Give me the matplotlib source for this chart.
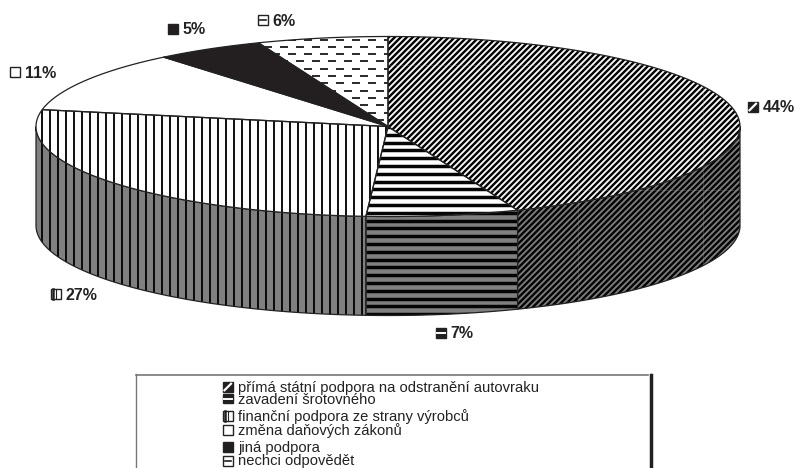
import matplotlib
matplotlib.use("Agg")
import matplotlib.pyplot as plt
import numpy as np
from matplotlib.collections import LineCollection
from matplotlib.patches import Polygon, Rectangle

plt.rcParams['font.family'] = ['Liberation Sans', 'DejaVu Sans']

# data
kategorie = ["přímá státní podpora na odstranění autovraku", "zavadení šrotovného",
             "finanční podpora ze strany výrobců", "změna daňových zákonů",
             "jiná podpora", "nechci odpovědět"]
procenta = [44, 7, 27, 11, 5, 6]
vzory = ["diag", "horiz", "vert", "blank", "solid", "dash"]
popisky = ["44%", "7%", "27%", "11%", "5%", "6%"]

# pozice
CX, CY, A, B, DEPTH = 388, 126.5, 352, 90, 99
label_pos = [(748, 107), (436, 333), (51, 294), (10, 72), (168, 29), (258, 20)]
legend_key_y = [387, 398.5, 416, 430, 447, 461]
legend_base_y = [392, 404, 421, 435, 452, 465]
CERNA = "#231f20"

fig = plt.figure(figsize=(7.95, 4.68), dpi=100)
ax = fig.add_axes([0, 0, 1, 1])
ax.set_xlim(0, 795)
ax.set_ylim(468, 0)
ax.axis("off")


def arc(a0, a1, dy=0):
    t = np.radians(np.linspace(a0, a1, 120))
    return np.column_stack([CX + A * np.cos(t), CY + dy - B * np.sin(t)])


def stripes(poly, vzor, base, z):
    # vyplni polygon vzorem, cary jsou orizle na polygon
    patch = Polygon(poly, closed=True, fc=base, ec="none", zorder=z)
    ax.add_patch(patch)
    x0, y0 = poly.min(axis=0)
    x1, y1 = poly.max(axis=0)
    segs = []
    lw = 1
    if vzor == "vert":
        segs = [[(x, y0), (x, y1)] for x in np.arange(2, 800, 8.0)]
        lw = 1.35
    elif vzor == "horiz":
        segs = [[(x0, y), (x1, y)] for y in np.arange(2.1, 470, 7.8)]
        lw = 2.5
    elif vzor == "diag":
        segs = [[(c, 0), (c - 500, 500)] for c in np.arange(0, 1400, 6.0)]
        lw = 1.75
    elif vzor == "dash":
        for i, y in enumerate(np.arange(3, 120, 7.3)):
            off = 0 if i % 2 == 0 else 8
            segs += [[(x + off, y), (x + off + 8, y)] for x in np.arange(200, 400, 16)]
        lw = 1.2
    if segs:
        lc = LineCollection(segs, colors="#050505", linewidths=lw, zorder=z + 0.1, capstyle="butt")
        ax.add_collection(lc)
        lc.set_clip_path(patch)
    if vzor == "diag":
        # svetle svy mezi dlazdicemi vzoru
        svy = [[(578, y0), (578, y1)], [(703, y0), (703, y1)], [(x0, 65), (x1, 65)], [(x0, 190), (x1, 190)]]
        lc = LineCollection(svy, colors="#aaaaaa", linewidths=0.4, alpha=0.4, zorder=z + 0.2)
        ax.add_collection(lc)
        lc.set_clip_path(patch)
    return patch


# hrany vyseci z procent
hrany = 90 - np.cumsum([0] + procenta) * 3.6

# boky
for i in range(len(procenta)):
    a0, a1 = hrany[i], hrany[i + 1]
    lo, hi = max(a1, -180), min(a0, 0)
    if hi <= lo:
        continue
    poly = np.vstack([arc(hi, lo), arc(lo, hi, DEPTH)])
    stripes(poly, vzory[i], "#808080", 2)
    ax.add_patch(Polygon(poly, closed=True, fc="none", ec="#222222", lw=0.9, zorder=3))

# vrchni plocha
for i in range(len(procenta)):
    poly = np.vstack([[(CX, CY)], arc(hrany[i], hrany[i + 1])])
    base = CERNA if vzory[i] == "solid" else "white"
    stripes(poly, vzory[i], base, 4)
    ax.add_patch(Polygon(poly, closed=True, fc="none", ec="#222222", lw=0.9, zorder=5))


def klic(x, yc, vzor, size=9.5):
    # maly ctverecek klice, vzor zjednoduseny
    y = yc - size / 2
    fc = CERNA if vzor in ("solid", "diag", "horiz") else "white"
    ax.add_patch(Rectangle((x, y), size, size, fc=fc, ec="#222222", lw=1.0, zorder=7))
    if vzor == "diag":
        ax.plot([x + 1.5, x + size - 1.5], [y + size - 1.5, y + 1.5], color="white", lw=1.6, zorder=7.5)
    elif vzor == "horiz":
        ax.plot([x + 1, x + size - 1], [yc, yc], color="white", lw=1.4, zorder=7.5)
    elif vzor == "vert":
        ax.plot([x + 2, x + 2], [y, y + size], color=CERNA, lw=1.8, zorder=7.5)
        ax.plot([x + size / 2, x + size / 2], [y, y + size], color=CERNA, lw=0.8, zorder=7.5)
    elif vzor == "dash":
        ax.plot([x + 2, x + size - 2], [yc, yc], color=CERNA, lw=1.2, zorder=7.5)


# popisky
for (x, y), vz, txt in zip(label_pos, vzory, popisky):
    klic(x, y, vz)
    ax.text(x + 14.5, y + 5.5, txt, fontsize=11.5, fontweight="bold", color="#222222",
            va="baseline", ha="left", zorder=8)

# legenda
ax.plot([136, 648], [374.5, 374.5], color="#777777", lw=1.2, zorder=1)
ax.plot([136, 136], [374, 468], color="#777777", lw=1.0, zorder=1)
ax.plot([650.5, 650.5], [375, 468], color=CERNA, lw=2.5, zorder=1)
for ky, by, vz, txt in zip(legend_key_y, legend_base_y, vzory, kategorie):
    klic(223, ky, vz)
    ax.text(238, by, txt, fontsize=10.6, color="#222222", va="baseline", ha="left", zorder=8)

fig.savefig("out.png", dpi=100)
